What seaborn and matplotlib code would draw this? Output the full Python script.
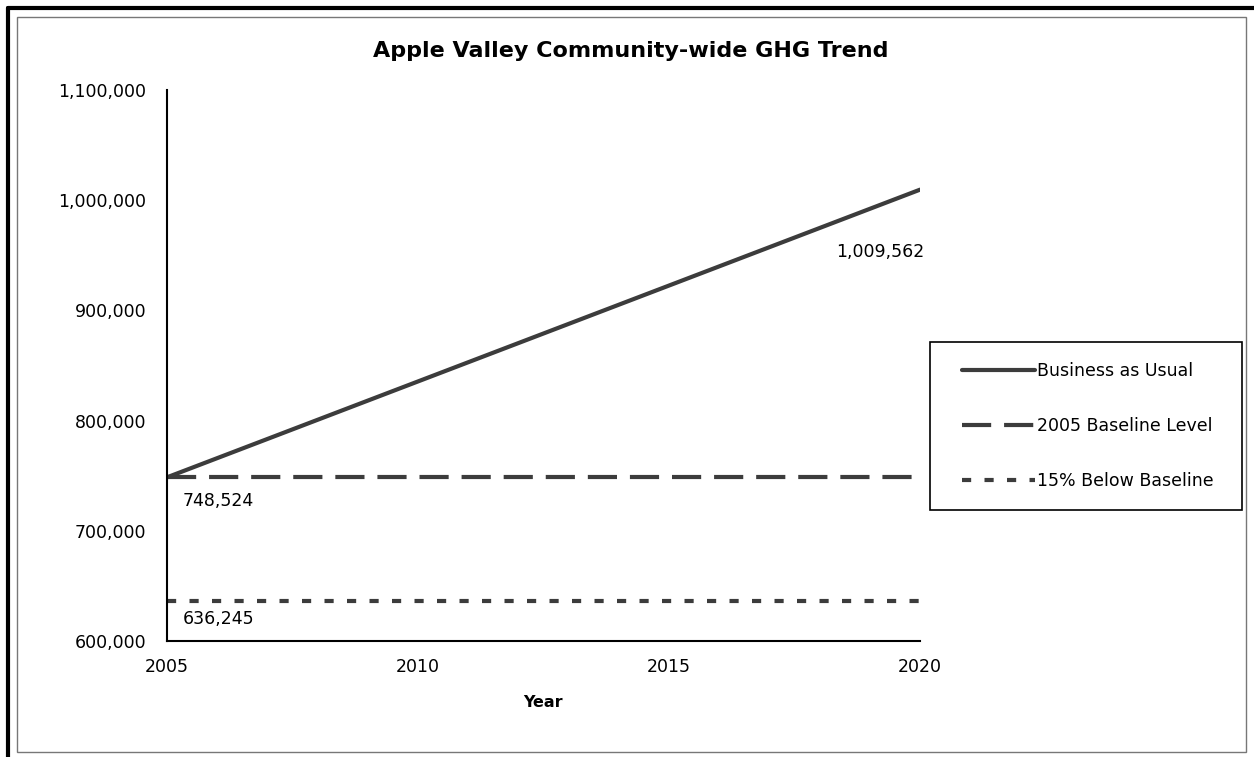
import matplotlib
matplotlib.use("Agg")
import matplotlib.pyplot as plt
from matplotlib.lines import Line2D
from matplotlib.patches import Rectangle
import seaborn as sns
import pandas as pd

years = [2005, 2020]
business_as_usual = [748524, 1009562]
baseline_2005 = [748524, 748524]
below_baseline_15 = [636245, 636245]
series_names = ["Business as Usual", "2005 Baseline Level", "15% Below Baseline"]
x_ticks = [2005, 2010, 2015, 2020]
y_ticks = [600000, 700000, 800000, 900000, 1000000, 1100000]

sns.set_theme(style="white")
plt.rcParams["font.family"] = ["DejaVu Sans"]
plt.rcParams["text.color"] = "black"

df = pd.DataFrame({
    "Year": years * 3,
    "Value": business_as_usual + baseline_2005 + below_baseline_15,
    "Series": [series_names[0]] * 2 + [series_names[1]] * 2 + [series_names[2]] * 2,
})

W, H = 1254, 757
fig = plt.figure(figsize=(W / 100, H / 100), dpi=100)
ax = fig.add_axes([167 / W, 1 - 641 / H, (920 - 167) / W, (641 - 90) / H])

line_color = "#3c3c3c"
long_dash = (7, 3.1)
short_dash = (2.2, 3.2)
dash_map = {
    series_names[0]: "",
    series_names[1]: long_dash,
    series_names[2]: short_dash,
}
sns.lineplot(data=df, x="Year", y="Value", hue="Series", style="Series",
             palette=[line_color] * 3, dashes=dash_map, linewidth=3,
             ax=ax, legend=False)

ax.set_xlim(2005, 2020)
ax.set_ylim(600000, 1100000)
ax.set_xticks(x_ticks)
ax.set_yticks(y_ticks)
ax.set_xticklabels([str(t) for t in x_ticks], fontsize=12.5, color="black")
ax.set_yticklabels([f"{t:,}" for t in y_ticks], fontsize=12.5, color="black")
ax.tick_params(axis="x", length=0, pad=12)
ax.tick_params(axis="y", length=0, pad=15)
ax.set_xlabel("Year", fontsize=11.5, fontweight="bold", labelpad=14, color="black")
ax.set_ylabel("")
for side in ["top", "right"]:
    ax.spines[side].set_visible(False)
for side in ["left", "bottom"]:
    ax.spines[side].set_color("black")
    ax.spines[side].set_linewidth(1.5)
ax.grid(False)

fig.text(631 / W, 1 - 51 / H, "Apple Valley Community-wide GHG Trend",
         fontsize=16, fontweight="bold", ha="center", va="center", color="black")

# Value labels
ax.annotate(f"{business_as_usual[1]:,}", xy=(years[1], business_as_usual[1]),
            xytext=(3, -45), textcoords="offset points", ha="right", va="center",
            fontsize=12.5)
ax.annotate(f"{baseline_2005[0]:,}", xy=(years[0], baseline_2005[0]),
            xytext=(11, -17), textcoords="offset points", ha="left", va="center",
            fontsize=12.5)
ax.annotate(f"{below_baseline_15[0]:,}", xy=(years[0], below_baseline_15[0]),
            xytext=(11, -13), textcoords="offset points", ha="left", va="center",
            fontsize=12.5)

# Legend with a square frame around it
fig.patches.append(Rectangle((930 / W, 1 - 510 / H), 312 / W, 168 / H,
                             transform=fig.transFigure, fill=False,
                             edgecolor="black", linewidth=1.2))
handles = [
    Line2D([], [], color=line_color, lw=3, linestyle="-"),
    Line2D([], [], color=line_color, lw=3, linestyle=(0, long_dash)),
    Line2D([], [], color=line_color, lw=3, linestyle=(0, short_dash)),
]
fig.legend(handles, series_names, loc="upper left",
           bbox_to_anchor=(962 / W, 1 - 362 / H),
           frameon=False, fontsize=12.5, handlelength=4.2,
           handletextpad=0.1, labelspacing=2.12,
           borderpad=0, borderaxespad=0)

# Chart area frames
fig.patches.append(Rectangle((17 / W, 1 - 752 / H), 1229 / W, 735 / H,
                             transform=fig.transFigure, fill=False,
                             edgecolor="#777777", linewidth=1))
fig.add_artist(Line2D([8 / W, 8 / W], [0, 1 - 8 / H],
                      transform=fig.transFigure, color="black", lw=3))
fig.add_artist(Line2D([8 / W, 1], [1 - 8 / H, 1 - 8 / H],
                      transform=fig.transFigure, color="black", lw=3))

fig.savefig("out.png", dpi=100, facecolor="white")
